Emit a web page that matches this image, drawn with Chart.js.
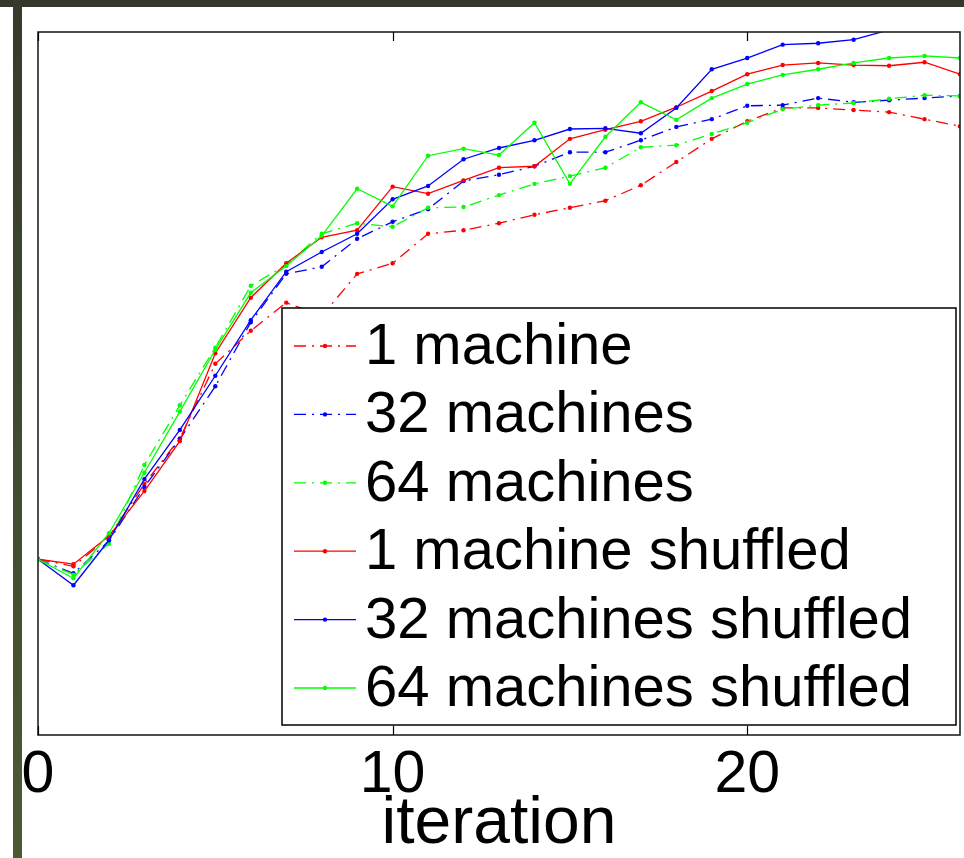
<!DOCTYPE html>
<html>
<head>
<meta charset="utf-8">
<script src="https://cdn.jsdelivr.net/npm/chart.js@4.4.1/dist/chart.umd.min.js"></script>
<style>
    html, body { margin: 0; padding: 0; background: #fff; }
    #wrap { position: relative; width: 964px; height: 858px; }
    #topbar { position: absolute; left: 0; top: 0; width: 964px; height: 7px; background: #35372b; z-index: 2; }
    #leftbar { position: absolute; left: 13px; top: 0; width: 9px; height: 858px; z-index: 2;
               background: linear-gradient(to bottom, #363a2c, #4b5a33); }
</style>
</head>
<body>
<div id="wrap">
    <div id="topbar"></div>
    <div id="leftbar"></div>
    <canvas id="myChart" width="964" height="858"></canvas>
</div>
<script>
const iterations = [0, 1, 2, 3, 4, 5, 6, 7, 8, 9, 10, 11, 12, 13, 14, 15, 16, 17, 18, 19, 20, 21, 22, 23, 24, 25, 26];

const oneMachine = [25.0, 24.0, 28.2, 35.7, 42.2, 52.8, 57.5, 61.5, 59.6, 65.6, 67.1, 71.3, 71.8, 72.8, 74.0, 75.0, 76.0, 78.2, 81.5, 84.8, 87.3, 89.2, 89.2, 88.9, 88.6, 87.6, 86.6];
const machines32 = [25.0, 23.0, 27.6, 35.3, 42.1, 49.6, 58.7, 65.6, 66.6, 70.6, 73.0, 74.8, 78.8, 79.7, 80.9, 82.9, 82.9, 84.6, 86.5, 87.6, 89.5, 89.6, 90.6, 90.0, 90.3, 90.6, 90.9];
const machines64 = [25.0, 22.8, 27.2, 38.4, 46.9, 55.1, 63.9, 66.9, 71.3, 72.8, 72.3, 75.0, 75.1, 76.8, 78.4, 79.5, 80.7, 83.6, 83.9, 85.5, 87.1, 89.0, 89.6, 89.9, 90.5, 91.0, 90.9];
const oneShuffled = [25.0, 24.3, 28.3, 34.7, 41.8, 54.3, 62.2, 67.1, 70.8, 71.8, 78.0, 77.0, 78.9, 80.7, 80.9, 84.8, 86.1, 87.3, 89.3, 91.6, 94.0, 95.3, 95.6, 95.3, 95.2, 95.7, 94.0];
const shuffled32 = [25.0, 21.3, 27.7, 36.4, 43.4, 51.1, 59.0, 65.9, 68.7, 71.3, 76.2, 78.1, 81.9, 83.5, 84.6, 86.2, 86.3, 85.6, 89.2, 94.7, 96.3, 98.2, 98.4, 98.9, 100.3, 101.1, 101.7];
const shuffled64 = [25.0, 22.3, 28.7, 37.3, 46.0, 54.8, 62.9, 66.7, 71.0, 77.7, 75.2, 82.4, 83.4, 82.5, 87.1, 78.4, 85.1, 90.0, 87.5, 90.6, 92.6, 93.9, 94.7, 95.6, 96.3, 96.6, 96.3];

const seriesLabels = ['1 machine', '32 machines', '64 machines', '1 machine shuffled', '32 machines shuffled', '64 machines shuffled'];
const seriesValues = [oneMachine, machines32, machines64, oneShuffled, shuffled32, shuffled64];
const seriesColors = ['#ff0000', '#0000ff', '#00ff00', '#ff0000', '#0000ff', '#00ff00'];
const dashDot = [12, 6, 2, 6];

const FONT = "'Liberation Sans', Arial, Helvetica, sans-serif";

function makeDataset(i) {
    const dashed = i < 3;
    return {
        label: seriesLabels[i],
        data: iterations.map((x, k) => ({ x: x, y: seriesValues[i][k] })),
        borderColor: seriesColors[i],
        backgroundColor: seriesColors[i],
        borderWidth: 1.3,
        borderDash: dashed ? dashDot : [],
        pointRadius: 2.2,
        pointBorderWidth: 0,
        pointBackgroundColor: seriesColors[i],
        tension: 0,
        fill: false,
        order: 5 - i
    };
}

// box around the plot, inward ticks, and the legend panel
const framePlugin = {
    id: 'frame',
    afterDatasetsDraw(chart) {
        const ctx = chart.ctx;
        const area = chart.chartArea;
        const xs = chart.scales.x;

        ctx.save();
        ctx.strokeStyle = '#222';
        ctx.lineWidth = 1.6;
        ctx.strokeRect(area.left, area.top, area.right - area.left, area.bottom - area.top);

        ctx.lineWidth = 1.2;
        ctx.strokeStyle = '#000';
        [0, 10, 20].forEach(v => {
            const px = Math.round(xs.getPixelForValue(v)) + 0.5;
            ctx.beginPath();
            ctx.moveTo(px, area.bottom);
            ctx.lineTo(px, area.bottom - 9);
            ctx.moveTo(px, area.top);
            ctx.lineTo(px, area.top + 9);
            ctx.stroke();
        });

        // legend
        const box = { left: 282, top: 308, right: 956, bottom: 725 };
        ctx.fillStyle = '#fff';
        ctx.fillRect(box.left, box.top, box.right - box.left, box.bottom - box.top);
        ctx.strokeStyle = '#000';
        ctx.lineWidth = 1.5;
        ctx.strokeRect(box.left, box.top, box.right - box.left, box.bottom - box.top);

        ctx.font = '58px ' + FONT;
        ctx.textBaseline = 'middle';
        ctx.textAlign = 'left';
        chart.data.datasets.forEach((ds, i) => {
            const y = 346 + i * 68.4;
            ctx.strokeStyle = ds.borderColor;
            ctx.lineWidth = 1.3;
            ctx.setLineDash(ds.borderDash);
            ctx.beginPath();
            ctx.moveTo(294, y);
            ctx.lineTo(356, y);
            ctx.stroke();
            ctx.setLineDash([]);
            ctx.fillStyle = ds.borderColor;
            ctx.beginPath();
            ctx.arc(325, y, 2.2, 0, Math.PI * 2);
            ctx.fill();
            ctx.fillStyle = '#000';
            ctx.fillText(ds.label, 365, y + 2);
        });
        ctx.restore();
    }
};

const ctx = document.getElementById('myChart').getContext('2d');
const myChart = new Chart(ctx, {
    type: 'line',
    data: {
        datasets: seriesValues.map((_, i) => makeDataset(i))
    },
    options: {
        responsive: false,
        animation: false,
        layout: {
            padding: { left: 38, top: 32, right: 1, bottom: 0 }
        },
        plugins: {
            legend: { display: false },
            tooltip: { enabled: false }
        },
        scales: {
            x: {
                type: 'linear',
                min: 0,
                max: 26,
                grid: { display: false, drawTicks: false },
                border: { display: false },
                ticks: {
                    stepSize: 10,
                    includeBounds: false,
                    maxRotation: 0,
                    padding: 11,
                    color: '#000',
                    font: { family: FONT, size: 59, lineHeight: 1 }
                },
                title: {
                    display: true,
                    text: 'iteration',
                    color: '#000',
                    padding: { top: 0, bottom: 0 },
                    font: { family: FONT, size: 66, lineHeight: 1 }
                },
                afterFit(scale) {
                    scale.height = 123;
                }
            },
            y: {
                type: 'linear',
                min: 0,
                max: 100,
                display: false
            }
        }
    },
    plugins: [framePlugin]
});
</script>
</body>
</html>
